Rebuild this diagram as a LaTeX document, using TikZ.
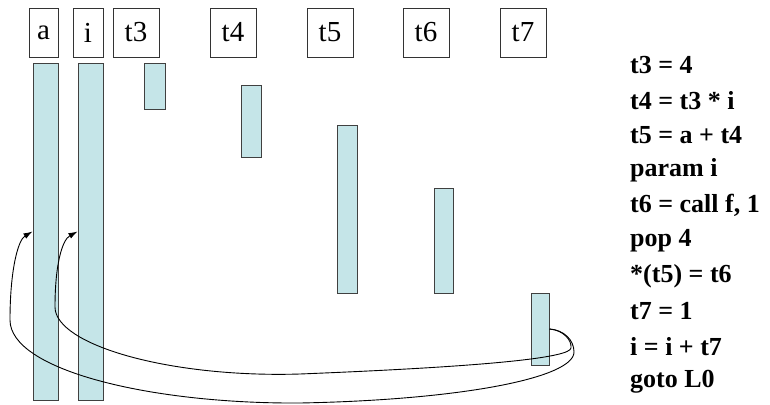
\documentclass[tikz,border=0pt]{standalone}
\usepackage{fontspec}
\setmainfont{Liberation Serif}
\usetikzlibrary{arrows.meta}
\definecolor{barfill}{HTML}{C5E5E8}
\definecolor{barline}{HTML}{404040}
\tikzset{
  lbl/.style={draw=black!80, line width=0.9pt, minimum height=49pt, inner sep=0pt, font=\fontsize{29}{31}\selectfont},
  bar/.style={draw=barline, fill=barfill, line width=1pt, inner sep=0pt},
  code/.style={anchor=west, inner sep=0pt, font=\fontsize{26}{28}\selectfont\bfseries},
  link/.style={black, line width=0.9pt, -{Latex[length=9pt,width=6pt]}}
}
\begin{document}
\begin{tikzpicture}[x=1pt,y=-1pt]
\useasboundingbox (0,0) rectangle (770,404);
% labels
\node[lbl, minimum width=29pt] (la) at (43.5,32.5) {a};
\node[lbl, minimum width=30pt] (li) at (88,32.5) {i};
\node[lbl, minimum width=46pt] (l3) at (136,32.5) {t3};
\node[lbl, minimum width=46pt] (l4) at (233,32.5) {t4};
\node[lbl, minimum width=46pt] (l5) at (330,32.5) {t5};
\node[lbl, minimum width=46pt] (l6) at (426,32.5) {t6};
\node[lbl, minimum width=46pt] (l7) at (523,32.5) {t7};
% bars
\node[bar, minimum width=25pt, minimum height=337pt] (ba) at (45.5,231.5) {};
\node[bar, minimum width=25pt, minimum height=337pt] (bi) at (90.5,231.5) {};
\node[bar, minimum width=21pt, minimum height=46pt] (b3) at (154.5,86) {};
\node[bar, minimum width=20pt, minimum height=72pt] (b4) at (251,121) {};
\node[bar, minimum width=20pt, minimum height=168pt] (b5) at (347,209) {};
\node[bar, minimum width=19pt, minimum height=105pt] (b6) at (443.5,241) {};
\node[bar, minimum width=18pt, minimum height=72pt] (b7) at (540,329) {};
% code
\node[code] (c1) at (630,65) {t3 = 4};
\node[code] (c2) at (630,100.2) {t4 = t3 * i};
\node[code] (c3) at (630,135.4) {t5 = a + t4};
\node[code] (c4) at (630,170.6) {param i};
\node[code] (c5) at (630,205.8) {t6 = call f, 1};
\node[code] (c6) at (630,241) {pop 4};
\node[code] (c7) at (630,276.2) {*(t5) = t6};
\node[code] (c8) at (630,311.4) {t7 = 1};
\node[code] (c9) at (630,346.6) {i = i + t7};
\node[code] (c10) at (630,381.8) {goto L0};
% links
\draw[link] (b7.east) .. controls (564,330) and (574,340) .. (574,352)
  .. controls (574,378) and (460,400) .. (300,403)
  .. controls (150,404) and (10,370) .. (10,320)
  .. controls (10,270) and (18,240) .. (ba.west);
\draw[link] (b7.east) .. controls (563,330) and (572,340) .. (571,348)
  .. controls (570,357) and (500,366) .. (300,374)
  .. controls (170,378) and (55,345) .. (55,307)
  .. controls (55,265) and (62,240) .. (bi.west);
\end{tikzpicture}
\end{document}
